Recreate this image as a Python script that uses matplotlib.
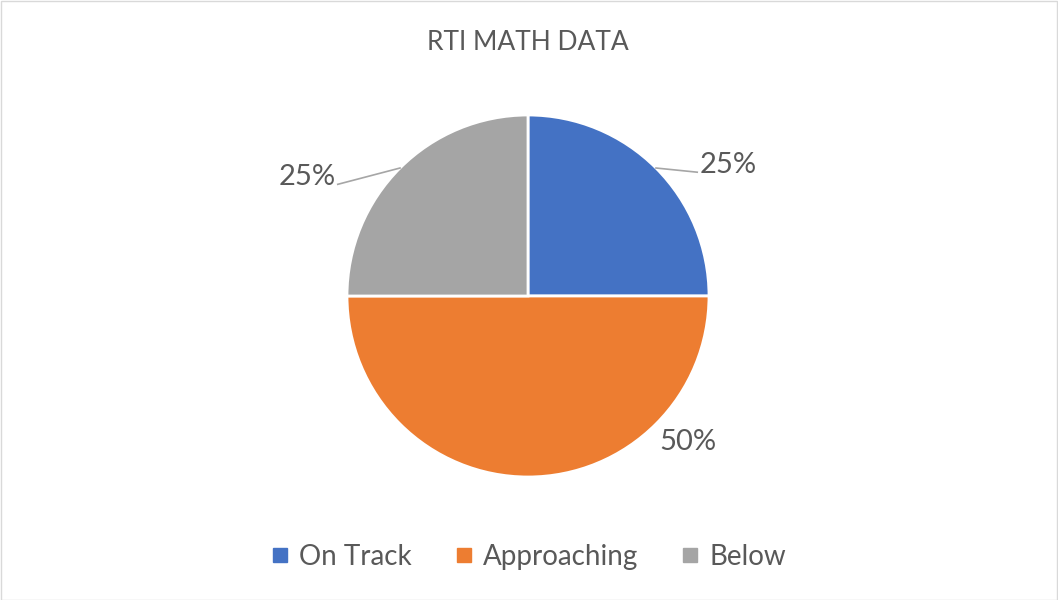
import matplotlib
matplotlib.use("Agg")
import matplotlib.pyplot as plt
from matplotlib.lines import Line2D
from matplotlib.patches import Rectangle
import numpy as np

title = "RTI MATH DATA"
categories = ["On Track", "Approaching", "Below"]
values = [25, 50, 25]
colors = ["#4472C4", "#ED7D31", "#A5A5A5"]
text_color = "#595959"

plt.rcParams['font.family'] = ['Lato', 'DejaVu Sans']

W, H = 1058, 600
fig = plt.figure(figsize=(W / 100, H / 100), dpi=100)
fig.patch.set_facecolor("white")

cx, cy, r = 528, 296, 181
ax = fig.add_axes([(cx - 2 * r) / W, (H - cy - 1.6 * r) / H, 4 * r / W, 3.2 * r / H])

wedges, _ = ax.pie(values, colors=colors, startangle=90, counterclock=False,
                   radius=1, wedgeprops=dict(edgecolor="white", linewidth=2))
ax.set_xlim(-2, 2)
ax.set_ylim(-1.6, 1.6)
ax.set_aspect("equal")
ax.axis("off")

# label offsets (text centers) in data units
label_pos = [(1.105, 0.724), (0.884, -0.807), (-1.221, 0.657)]
leader = [True, False, True]
total = sum(values)
for w, v, pos, ld in zip(wedges, values, label_pos, leader):
    ang = np.deg2rad((w.theta1 + w.theta2) / 2)
    edge = (np.cos(ang), np.sin(ang))
    txt = f"{round(100 * v / total)}%"
    ax.text(pos[0], pos[1], txt, ha="center", va="center", fontsize=21, color=text_color)
    if ld:
        tx = pos[0] - np.sign(pos[0]) * 0.17
        ax.plot([edge[0], tx], [edge[1], pos[1] - 0.04], color="#A6A6A6", lw=1.2)

fig.text(cx / W, 1 - 42 / H, title, ha="center", va="center", fontsize=19, color=text_color)

handles = [Line2D([0], [0], marker="s", linestyle="none", markersize=10,
                  markerfacecolor=c, markeredgecolor=c) for c in colors]
fig.legend(handles, categories, loc="center", bbox_to_anchor=(cx / W, 1 - 557 / H),
           ncol=3, frameon=False, fontsize=20, handlelength=0.7, handletextpad=0.35,
           columnspacing=1.5, labelcolor=text_color)

fig.add_artist(Rectangle((0.5 / W, 0.5 / H), 1 - 1.5 / W, 1 - 1.5 / H, transform=fig.transFigure,
                         fill=False, edgecolor="#D9D9D9", lw=1))

fig.savefig("out.png", dpi=100)
